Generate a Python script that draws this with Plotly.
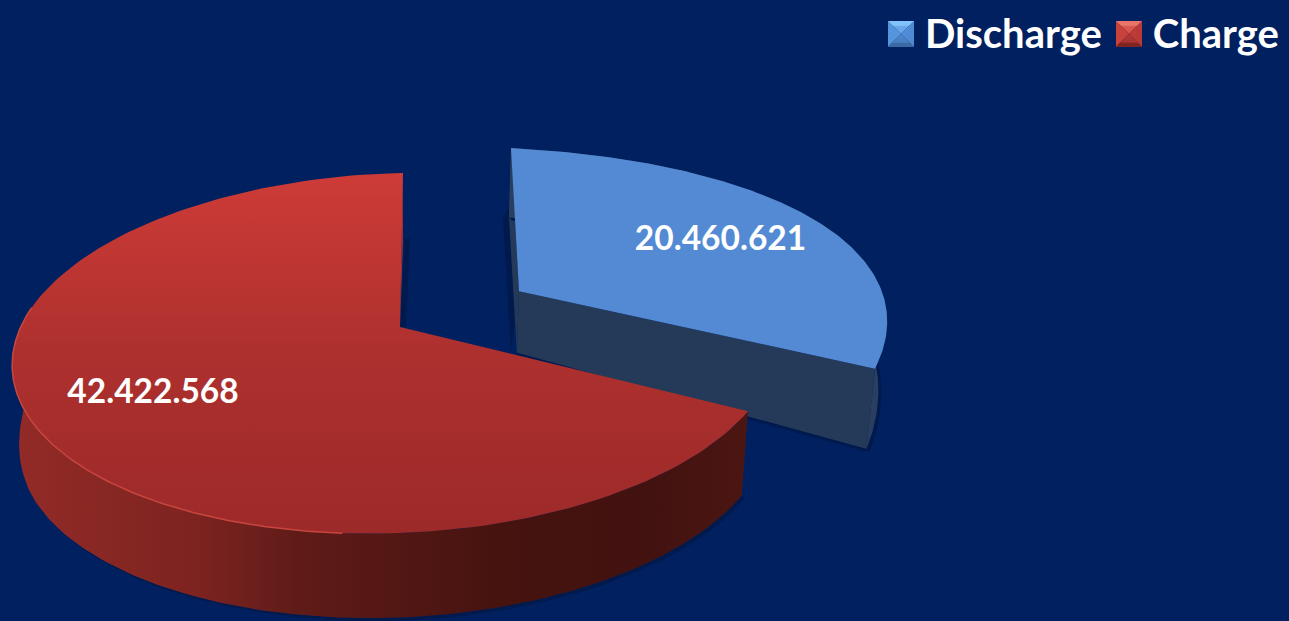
import numpy as np
import plotly.graph_objects as go

categories = ["Discharge", "Charge"]
series_values = [20460621, 42422568]

BG = "#002060"
W, H = 1289, 621


def homography(src, dst):
    A, b = [], []
    for (x, y), (u, v) in zip(src, dst):
        A.append([x, y, 1, 0, 0, 0, -u * x, -u * y])
        A.append([0, 0, 0, x, y, 1, -v * x, -v * y])
        b += [u, v]
    h = np.linalg.solve(np.array(A, float), np.array(b, float))
    return np.append(h, 1).reshape(3, 3)


total = sum(series_values)
sweep = 360 * series_values[0] / total
sw = np.radians(sweep)
end = (np.sin(sw), np.cos(sw))
diag = np.sqrt(0.5)

# camera calibration of the top planes: unit disc -> image pixels
M_red = homography([(0, 1), (0, -1), (-1, 0), end],
                   [(403, 170), (380, 533), (16.5, 336), (748, 410)])
M_blue = homography([(0, 1), (diag, diag), (1, 0), end],
                    [(511, 145), (790, 204), (885, 300), (875, 367)])


def project(M, wx, wy):
    p = M @ np.vstack([wx, wy, np.ones_like(wx)])
    return p[0] / p[2], p[1] / p[2]


def drop(x, y):
    d = np.interp(y, [147, 290, 367, 410, 621], [70, 62, 81, 85, 85])
    return x + (400 - x) * 0.018, y + d


def rim(M, a0, a1, n=160):
    a = np.radians(np.linspace(a0, a1, n))
    return project(M, np.sin(a), np.cos(a))


fig = go.Figure()


def poly(x, y, color=None, grad=None):
    kw = dict(x=list(x) + [x[0]], y=list(y) + [y[0]], mode="lines", fill="toself",
              line=dict(width=0), hoverinfo="skip", showlegend=False)
    if grad is not None:
        kw["fillgradient"] = grad
    else:
        kw["fillcolor"] = color
    fig.add_trace(go.Scatter(**kw))


# --- Discharge slice
bx, by = rim(M_blue, 0, sweep)
bdx, bdy = drop(bx, by)
cbx, cby = 519.0, 289.0
cdx, cdy = drop(np.array([cbx]), np.array([cby]))
poly(np.r_[bx[0] - 2, bdx[0] - 6, cdx[0] - 6, cbx], np.r_[by[0] + 60, bdy[0], cdy[0], cby], "#001a4e")
poly(np.r_[bx[0], bdx[0], cdx[0], cbx], np.r_[by[0], bdy[0], cdy[0], cby], "#243a58")
poly(np.r_[bdx + 3, bdx[::-1]], np.r_[bdy + 3, bdy[::-1]], "#001a4e")
poly(np.r_[bx, bdx[::-1]], np.r_[by, bdy[::-1]], "#2a3f5f")
poly(np.r_[cbx, bx[-1], bdx[-1], cdx[0]], np.r_[cby, by[-1], bdy[-1], cdy[0]], "#243a58")
poly(np.r_[cdx[0], bdx[-1], bdx[-1] + 1, cdx[0]], np.r_[cdy[0], bdy[-1], bdy[-1] + 3, cdy[0] + 3], "#001a4e")
poly(np.r_[cbx, bx], np.r_[cby, by], "#538ad3")

# --- Charge slice
rx, ry = rim(M_red, sweep, 360)
rdx, rdy = drop(rx, ry)
crx, cry = 400.0, 325.0
poly(np.r_[rx[-1] + 2, rx[-1] + 7, crx + 6, crx], np.r_[ry[-1] + 66, ry[-1] + 66, cry, cry], "#001a4e")
poly(np.r_[rx[-1], rdx[-1], crx], np.r_[ry[-1], rdy[-1], cry], "#ab302e")
wa = rim(M_red, sweep, 285)
wb = drop(*wa)
poly(np.r_[wb[0] + 3, wb[0][::-1]], np.r_[wb[1] + 3, wb[1][::-1]], "#001a4e")
poly(np.r_[wa[0], wb[0][::-1]], np.r_[wa[1], wb[1][::-1]],
     grad=dict(type="horizontal", start=12, stop=750,
               colorscale=[[0, "#932b27"], [0.25, "#7d2320"], [0.39, "#5f1b18"],
                           [0.66, "#46130f"], [0.86, "#421210"], [1, "#4c1612"]]))
poly(np.r_[crx, rx], np.r_[cry, ry],
     grad=dict(type="vertical", start=172, stop=533,
               colorscale=[[0, "#cd3b37"], [0.5, "#ad302e"], [1, "#9c2a29"]]))
ex, ey = rim(M_red, 185, 280)
fig.add_trace(go.Scatter(x=ex, y=ey, mode="lines", line=dict(color="#c9463f", width=1.5),
                         hoverinfo="skip", showlegend=False))

# data labels
label_x = [720.5, 153]
label_y = [239, 393]
fig.add_trace(go.Scatter(
    x=label_x, y=label_y, mode="text",
    text=[f"{v:,}".replace(",", ".") for v in series_values],
    textposition="middle center",
    textfont=dict(family="Lato", size=33.5, color="white", weight="bold"),
    hoverinfo="skip", showlegend=False))

# bevelled legend swatches, drawn under the legend's own entries
swatch_left = [888, 1116]
swatch_top = 17
swatch_size = 26
swatch_colors = [["#6cabec", "#5595de", "#4f8ad4", "#4a80c4", "#84c2fb", "#3b6aa3"],
                 ["#dc5a52", "#c8423c", "#bb3a36", "#ab3531", "#e8746a", "#7f2321"]]
for left, cols in zip(swatch_left, swatch_colors):
    l, t, s = left, swatch_top, swatch_size
    cx, cy = l + s / 2, t + s / 2
    poly([l, l + s, cx], [t, t, cy], cols[0])
    poly([l + s, l + s, cx], [t, t + s, cy], cols[2])
    poly([l, l, cx], [t, t + s, cy], cols[1])
    poly([l, l + s, cx], [t + s, t + s, cy], cols[3])
    poly([l, l + s, l + s - 5, l + 5], [t, t, t + 5, t + 5], cols[4])
    poly([l, l + s, l + s - 4, l + 4], [t + s, t + s, t + s - 4, t + s - 4], cols[5])

for name, col in zip(categories, ["#5a97e0", "#cc3f3b"]):
    fig.add_trace(go.Scatter(x=[None], y=[None], mode="markers", name=name,
                             marker=dict(symbol="square", size=16, color=col, opacity=0)))

fig.update_layout(
    width=W, height=H, autosize=False,
    margin=dict(l=0, r=0, t=0, b=0),
    paper_bgcolor=BG, plot_bgcolor=BG,
    xaxis=dict(range=[0, W], visible=False, fixedrange=True),
    yaxis=dict(range=[H, 0], visible=False, fixedrange=True),
    legend=dict(orientation="h", x=879 / W, xanchor="left", y=1.006, yanchor="top",
                itemwidth=36,
                font=dict(family="Lato", size=40, color="white", weight="bold"),
                bgcolor="rgba(0,0,0,0)", itemsizing="constant"),
)
fig.write_html("out.html", config={"displayModeBar": False},
               post_script="document.body.style.margin='0';document.body.style.background='%s';" % BG)
